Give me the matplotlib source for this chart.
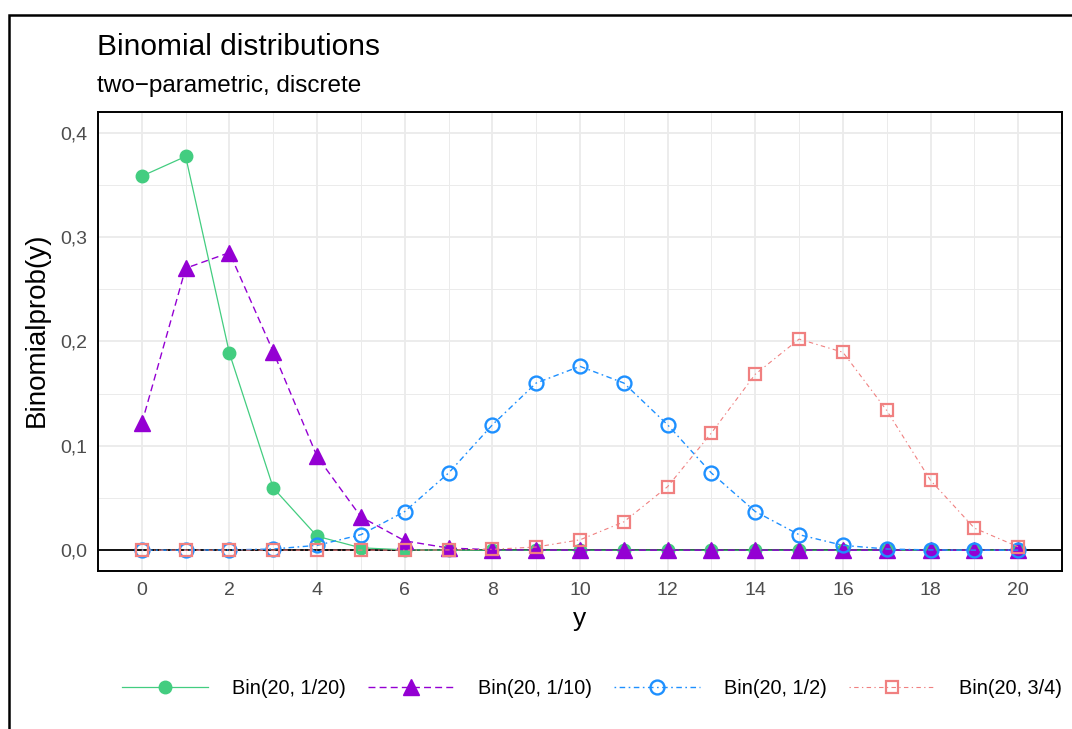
import numpy as np
import matplotlib
matplotlib.use("Agg")
import matplotlib.pyplot as plt
from matplotlib.patches import Rectangle
from matplotlib.ticker import MultipleLocator, FuncFormatter

plt.rcParams['font.family'] = ['Liberation Sans', 'DejaVu Sans']

# values (probabilities for y = 0..20)
y_vals = list(range(21))
p_05 = [0.3585, 0.3774, 0.1887, 0.0596, 0.0133, 0.0022, 0.0003, 0.0000, 0.0000, 0.0000,
        0.0000, 0.0000, 0.0000, 0.0000, 0.0000, 0.0000, 0.0000, 0.0000, 0.0000, 0.0000, 0.0000]
p_10 = [0.1216, 0.2702, 0.2852, 0.1901, 0.0898, 0.0319, 0.0089, 0.0020, 0.0004, 0.0001,
        0.0000, 0.0000, 0.0000, 0.0000, 0.0000, 0.0000, 0.0000, 0.0000, 0.0000, 0.0000, 0.0000]
p_50 = [0.0000, 0.0000, 0.0002, 0.0011, 0.0046, 0.0148, 0.0370, 0.0739, 0.1201, 0.1602,
        0.1762, 0.1602, 0.1201, 0.0739, 0.0370, 0.0148, 0.0046, 0.0011, 0.0002, 0.0000, 0.0000]
p_75 = [0.0000, 0.0000, 0.0000, 0.0000, 0.0000, 0.0000, 0.0000, 0.0002, 0.0008, 0.0030,
        0.0099, 0.0271, 0.0609, 0.1124, 0.1686, 0.2023, 0.1897, 0.1339, 0.0669, 0.0211, 0.0032]
labels = ['Bin(20, 1/20)', 'Bin(20, 1/10)', 'Bin(20, 1/2)', 'Bin(20, 3/4)']

W, H = 1072, 729
fig = plt.figure(figsize=(W / 100, H / 100), dpi=100)

# outer black frame (right and bottom run off the canvas)
fig.add_artist(Rectangle((9 / W, -0.05), 1.0, (H - 15) / H + 0.05, fill=False,
                         ec='black', lw=1.8, transform=fig.transFigure, clip_on=False))

ax = fig.add_axes([98 / W, (H - 571) / H, (1062 - 98) / W, (571 - 112) / H])

ax.plot(y_vals, p_05, color='#43CD80', lw=0.9, ls='-', marker='o', ms=9,
        mec='#43CD80', mfc='#43CD80', label=labels[0], zorder=3)
ax.plot(y_vals, p_10, color='#9400D3', lw=1.0, ls=(0, (5, 3)), marker='^', ms=11,
        mec='#9400D3', mfc='#9400D3', label=labels[1], zorder=4)
ax.plot(y_vals, p_50, color='#1E90FF', lw=1.0, ls=(0, (1.2, 2.5, 4, 2.5)), marker='o', ms=10,
        mec='#1E90FF', mfc='none', mew=1.7, label=labels[2], zorder=5)
ax.plot(y_vals, p_75, color='#F08080', lw=0.8, ls=(0, (1.2, 3, 4, 3)), marker='s', ms=8.5,
        mec='#F08080', mfc='none', mew=1.6, label=labels[3], zorder=6)

ax.axhline(0, color='black', lw=1.3, zorder=2)

ax.set_xlim(-1, 21)
ax.set_ylim(-0.02, 0.42)
ax.xaxis.set_major_locator(MultipleLocator(2))
ax.xaxis.set_minor_locator(MultipleLocator(1))
ax.yaxis.set_major_locator(MultipleLocator(0.1))
ax.yaxis.set_minor_locator(MultipleLocator(0.05))
ax.yaxis.set_major_formatter(FuncFormatter(lambda v, p: f"{v:.1f}".replace('.', ',')))
ax.grid(which='major', color='#EBEBEB', lw=1.3, zorder=0)
ax.grid(which='minor', color='#EBEBEB', lw=0.7, zorder=0)
ax.set_axisbelow(True)
ax.tick_params(which='both', length=0, labelsize=14, colors='#4D4D4D', pad=8)
for s in ax.spines.values():
    s.set_linewidth(1.4)
    s.set_color('black')

ax.set_xlabel('y', fontsize=19, labelpad=6)
ax.set_ylabel('Binomialprob(y)', fontsize=20)
ax.yaxis.set_label_coords(-0.05, 0.525)

fig.text(97 / W, (H - 47) / H, 'Binomial distributions', fontsize=21.5, va='center', ha='left')
fig.text(97 / W, (H - 86) / H, 'two\u2212parametric, discrete', fontsize=17.5, va='center', ha='left')

fig.legend(loc='center', bbox_to_anchor=(592 / W, (H - 688) / H), ncol=4, frameon=False,
           fontsize=14.3, handlelength=4.3, handletextpad=1.2, columnspacing=1.15)

fig.savefig('out.png', dpi=100)
